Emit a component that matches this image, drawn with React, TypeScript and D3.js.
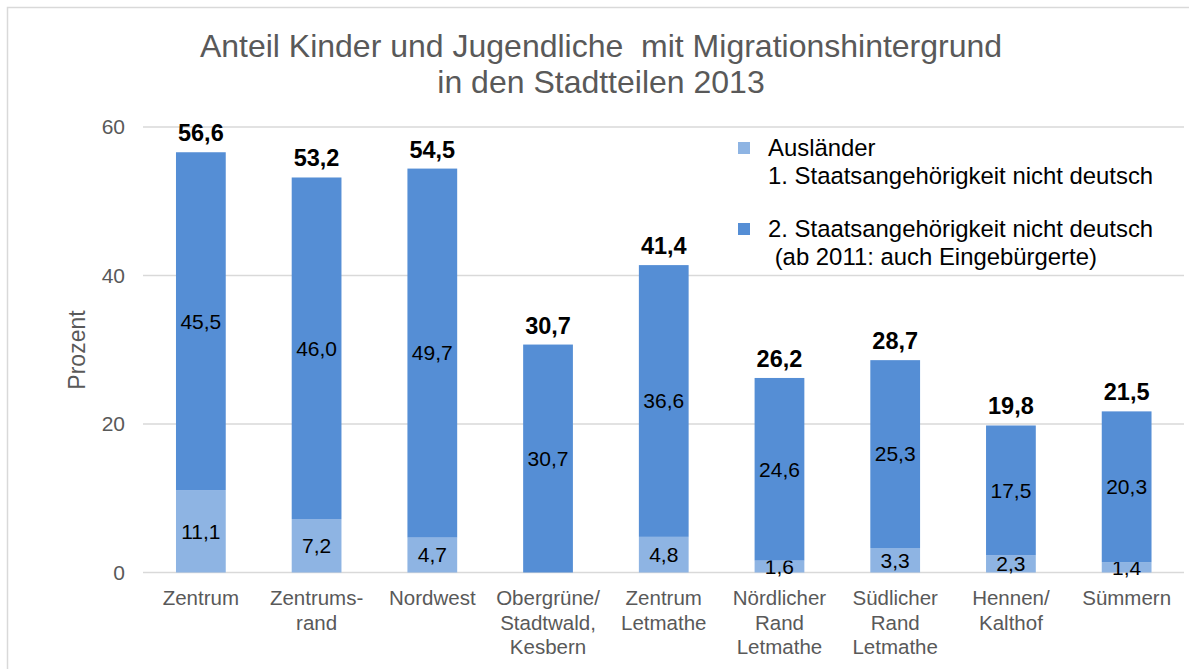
import { useEffect, useRef } from "react";
import * as d3 from "d3";

const categories = [
  ["Zentrum"],
  ["Zentrums-", "rand"],
  ["Nordwest"],
  ["Obergrüne/", "Stadtwald,", "Kesbern"],
  ["Zentrum", "Letmathe"],
  ["Nördlicher", "Rand", "Letmathe"],
  ["Südlicher", "Rand", "Letmathe"],
  ["Hennen/", "Kalthof"],
  ["Sümmern"],
];
const auslaender = [11.1, 7.2, 4.7, 0, 4.8, 1.6, 3.3, 2.3, 1.4];
const zweiteStaat = [45.5, 46.0, 49.7, 30.7, 36.6, 24.6, 25.3, 17.5, 20.3];
const totals = [56.6, 53.2, 54.5, 30.7, 41.4, 26.2, 28.7, 19.8, 21.5];
const yTicks = [0, 20, 40, 60];
const legendItems = [
  { lines: ["Ausländer", "1. Staatsangehörigkeit nicht deutsch"], color: "#8EB4E3" },
  { lines: ["2. Staatsangehörigkeit nicht deutsch", " (ab 2011: auch Eingebürgerte)"], color: "#558ED5" },
];

const W = 1189;
const H = 669;
const fmt = (v: number) => v.toFixed(1).replace(".", ",");

export default function App() {
  const ref = useRef<SVGSVGElement>(null);

  useEffect(() => {
    const svg = d3.select(ref.current);
    svg.selectAll("*").remove();
    const font = "'Liberation Sans', Arial, sans-serif";

    // outer frame
    svg.append("rect").attr("x", 7.5).attr("y", 7.5).attr("width", W + 20).attr("height", H + 20)
      .attr("fill", "white").attr("stroke", "#d9d9d9").attr("stroke-width", 1.5);

    const x = d3.scaleBand<number>().domain(d3.range(categories.length)).range([143, 1184.5]).paddingInner(0.57).paddingOuter(0.285);
    const y = d3.scaleLinear().domain([0, 60]).range([572.5, 127]);

    // gridlines + tick labels
    const g = svg.append("g");
    yTicks.forEach((t) => {
      g.append("line").attr("x1", 143).attr("x2", 1184).attr("y1", y(t)).attr("y2", y(t))
        .attr("stroke", "#d9d9d9").attr("stroke-width", 1.5);
      g.append("text").attr("x", 125).attr("y", y(t)).attr("dy", "0.35em").attr("text-anchor", "end")
        .attr("font-family", font).attr("font-size", 21).attr("fill", "#595959").text(t);
    });

    // stacked bars
    const stack = d3.stack<number>().keys(["a", "b"]).value((i, k) => (k === "a" ? auslaender[i] : zweiteStaat[i]));
    const series = stack(d3.range(categories.length));
    const colors = [legendItems[0].color, legendItems[1].color];
    const vals = [auslaender, zweiteStaat];
    series.forEach((s, si) => {
      svg.append("g").selectAll("rect").data(s).join("rect")
        .attr("x", (d) => x(d.data)!)
        .attr("width", x.bandwidth())
        .attr("y", (d) => y(d[1]))
        .attr("height", (d) => y(d[0]) - y(d[1]))
        .attr("fill", colors[si]);
      svg.append("g").selectAll("text").data(s.filter((d) => vals[si][d.data] > 0)).join("text")
        .attr("x", (d) => x(d.data)! + x.bandwidth() / 2)
        .attr("y", (d) => y((d[0] + d[1]) / 2))
        .attr("dy", "0.35em").attr("text-anchor", "middle")
        .attr("font-family", font).attr("font-size", 21).attr("fill", "#000")
        .text((d) => fmt(vals[si][d.data]));
    });

    // totals
    svg.append("g").selectAll("text").data(d3.range(categories.length)).join("text")
      .attr("x", (i) => x(i)! + x.bandwidth() / 2)
      .attr("y", (i) => y(auslaender[i] + zweiteStaat[i]) - 11)
      .attr("text-anchor", "middle").attr("font-family", font).attr("font-size", 23.5)
      .attr("font-weight", "bold").attr("fill", "#000")
      .text((i) => fmt(totals[i]));

    // category labels
    categories.forEach((lines, i) => {
      const t = svg.append("text").attr("text-anchor", "middle").attr("font-family", font)
        .attr("font-size", 20.5).attr("fill", "#595959");
      lines.forEach((l, li) => {
        t.append("tspan").attr("x", x(i)! + x.bandwidth() / 2).attr("y", 605 + li * 24.5).text(l);
      });
    });

    // y axis title
    svg.append("text").attr("transform", "translate(85,350) rotate(-90)").attr("text-anchor", "middle")
      .attr("font-family", font).attr("font-size", 23).attr("fill", "#595959").text("Prozent");

    // title
    const title = svg.append("text").attr("text-anchor", "middle").attr("font-family", font)
      .attr("font-size", 32).attr("fill", "#595959").attr("xml:space", "preserve");
    title.append("tspan").attr("x", 601).attr("y", 57).text("Anteil Kinder und Jugendliche  mit Migrationshintergrund");
    title.append("tspan").attr("x", 601).attr("y", 93).text("in den Stadtteilen 2013");

    // legend
    const lg = svg.append("g");
    const legendY = [142, 223];
    legendItems.forEach((it, i) => {
      lg.append("rect").attr("x", 738).attr("y", legendY[i]).attr("width", 12).attr("height", 12).attr("fill", it.color);
      const t = lg.append("text").attr("font-family", font).attr("font-size", 23.9).attr("fill", "#000")
        .attr("xml:space", "preserve");
      it.lines.forEach((l, li) => {
        t.append("tspan").attr("x", 768).attr("y", legendY[i] + 14 + li * 27.5).text(l);
      });
    });
  }, []);

  return (
    <div style={{ position: "absolute", left: 0, top: 0 }}>
      <svg ref={ref} width={W} height={H} style={{ display: "block" }} />
    </div>
  );
}
